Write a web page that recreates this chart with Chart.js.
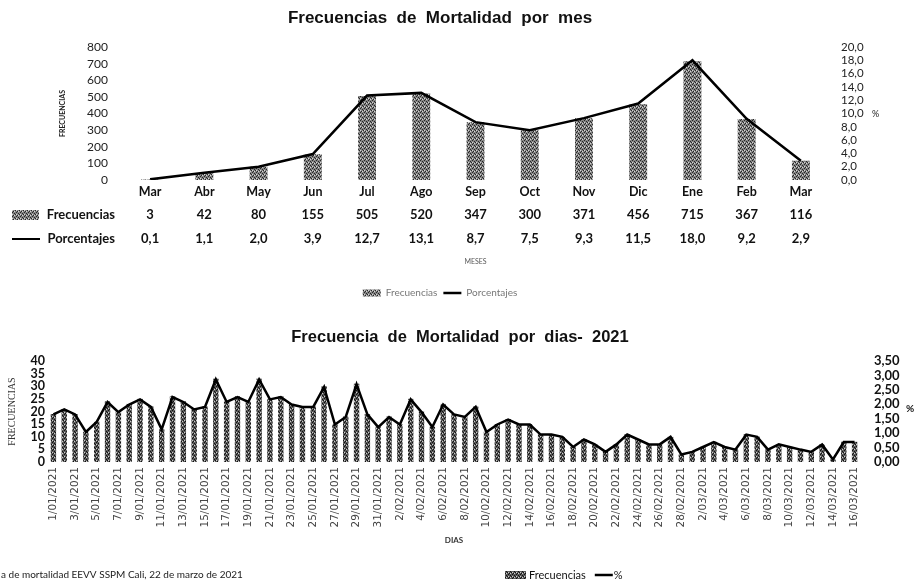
<!DOCTYPE html>
<html lang="es">
<head>
<meta charset="utf-8">
<title>Frecuencias de Mortalidad</title>
<script src="https://cdn.jsdelivr.net/npm/chart.js@4.4.0/dist/chart.umd.min.js"></script>
<style>
  html, body { margin: 0; padding: 0; background: #fff; }
  #mes { position: absolute; left: 0; top: 0; }
  #dias { position: absolute; left: 0; top: 310px; }
</style>
</head>
<body>
<canvas id="mes" width="916" height="310"></canvas>
<canvas id="dias" width="916" height="271"></canvas>
<script>
// datos por mes (mar 2020 - mar 2021)
var meses = ['Mar', 'Abr', 'May', 'Jun', 'Jul', 'Ago', 'Sep', 'Oct', 'Nov', 'Dic', 'Ene', 'Feb', 'Mar'];
var frecMes = [3, 42, 80, 155, 505, 520, 347, 300, 371, 456, 715, 367, 116];
var pctMes = [0.1, 1.1, 2.0, 3.9, 12.7, 13.1, 8.7, 7.5, 9.3, 11.5, 18.0, 9.2, 2.9];
var ticksFrecMes = ['0', '100', '200', '300', '400', '500', '600', '700', '800'];
var ticksPctMes = ['0,0', '2,0', '4,0', '6,0', '8,0', '10,0', '12,0', '14,0', '16,0', '18,0', '20,0'];

// datos por dia 2021
var dias = [
  '1/01/2021', '2/01/2021', '3/01/2021', '4/01/2021', '5/01/2021', '6/01/2021', '7/01/2021', '8/01/2021', '9/01/2021', '10/01/2021',
  '11/01/2021', '12/01/2021', '13/01/2021', '14/01/2021', '15/01/2021', '16/01/2021', '17/01/2021', '18/01/2021', '19/01/2021', '20/01/2021',
  '21/01/2021', '22/01/2021', '23/01/2021', '24/01/2021', '25/01/2021', '26/01/2021', '27/01/2021', '28/01/2021', '29/01/2021', '30/01/2021',
  '31/01/2021', '1/02/2021', '2/02/2021', '3/02/2021', '4/02/2021', '5/02/2021', '6/02/2021', '7/02/2021', '8/02/2021', '9/02/2021',
  '10/02/2021', '11/02/2021', '12/02/2021', '13/02/2021', '14/02/2021', '15/02/2021', '16/02/2021', '17/02/2021', '18/02/2021', '19/02/2021',
  '20/02/2021', '21/02/2021', '22/02/2021', '23/02/2021', '24/02/2021', '25/02/2021', '26/02/2021', '27/02/2021', '28/02/2021', '1/03/2021',
  '2/03/2021', '3/03/2021', '4/03/2021', '5/03/2021', '6/03/2021', '7/03/2021', '8/03/2021', '9/03/2021', '10/03/2021', '11/03/2021',
  '12/03/2021', '13/03/2021', '14/03/2021', '15/03/2021', '16/03/2021'
];
var frecDia = [
  19, 21, 19, 12, 16, 24, 20, 23, 25, 22,
  13, 26, 24, 21, 22, 33, 24, 26, 24, 33,
  25, 26, 23, 22, 22, 30, 15, 18, 31, 19,
  14, 18, 15, 25, 20, 14, 23, 19, 18, 22,
  12, 15, 17, 15, 15, 11, 11, 10, 6, 9,
  7, 4, 7, 11, 9, 7, 7, 10, 3, 4,
  6, 8, 6, 5, 11, 10, 5, 7, 6, 5,
  4, 7, 1, 8, 8
];
var pctDia = [
  1.65, 1.82, 1.65, 1.04, 1.39, 2.08, 1.73, 1.99, 2.17, 1.91,
  1.13, 2.25, 2.08, 1.82, 1.91, 2.86, 2.08, 2.25, 2.08, 2.86,
  2.17, 2.25, 1.99, 1.91, 1.91, 2.60, 1.30, 1.56, 2.69, 1.65,
  1.21, 1.56, 1.30, 2.17, 1.73, 1.21, 1.99, 1.65, 1.56, 1.91,
  1.04, 1.30, 1.47, 1.30, 1.30, 0.95, 0.95, 0.87, 0.52, 0.78,
  0.61, 0.35, 0.61, 0.95, 0.78, 0.61, 0.61, 0.87, 0.26, 0.35,
  0.52, 0.69, 0.52, 0.43, 0.95, 0.87, 0.43, 0.61, 0.52, 0.43,
  0.35, 0.61, 0.09, 0.69, 0.69
];
var ticksFrecDia = ['0', '5', '10', '15', '20', '25', '30', '35', '40'];
var ticksPctDia = ['0,00', '0,50', '1,00', '1,50', '2,00', '2,50', '3,00', '3,50'];

// trama punteada tipo fotocopia para las barras
function trama(base, oscuro, claro) {
  var c = document.createElement('canvas');
  c.width = 4; c.height = 4;
  var g = c.getContext('2d');
  g.fillStyle = base; g.fillRect(0, 0, 4, 4);
  g.fillStyle = oscuro;
  g.fillRect(0, 0, 1, 1); g.fillRect(2, 1, 1, 1); g.fillRect(1, 3, 1, 1); g.fillRect(3, 2, 1, 1);
  g.fillStyle = claro;
  g.fillRect(2, 3, 1, 1); g.fillRect(0, 2, 1, 1);
  return g.createPattern(c, 'repeat');
}
var patronMes = trama('#858585', '#262626', '#d6d6d6');
var patronDia = trama('#5c5c5c', '#111111', '#cfcfcf');

var sinRejilla = { display: false, drawTicks: false };
var sinBorde = { display: false };

// tabla de datos bajo el eje x
var tablaMes = {
  id: 'tablaMes',
  afterDraw: function (chart) {
    var ctx = chart.ctx, x = chart.scales.x, area = chart.chartArea;
    var f1 = area.bottom + 35, f2 = area.bottom + 59;
    ctx.save();
    ctx.font = 'bold 13px Lato';
    ctx.fillStyle = '#111';
    ctx.textBaseline = 'middle';
    ctx.textAlign = 'center';
    for (var i = 0; i < frecMes.length; i++) {
      var px = x.getPixelForValue(i);
      ctx.fillText(String(frecMes[i]), px, f1);
      ctx.fillText(pctMes[i].toFixed(1).replace('.', ','), px, f2);
    }
    ctx.textAlign = 'right';
    ctx.fillText('Frecuencias', 115, f1);
    ctx.fillText('Porcentajes', 115, f2);
    ctx.fillStyle = patronMes;
    ctx.fillRect(12, f1 - 5, 27, 10);
    ctx.strokeStyle = '#000';
    ctx.lineWidth = 2;
    ctx.beginPath(); ctx.moveTo(12, f2); ctx.lineTo(40, f2); ctx.stroke();
    // simbolo del eje derecho
    ctx.font = '9px Lato';
    ctx.fillStyle = '#222';
    ctx.textAlign = 'left';
    ctx.fillText('%', chart.scales.y1.left + 44, (area.top + area.bottom) / 2 + 1);
    ctx.restore();
  }
};

new Chart(document.getElementById('mes'), {
  type: 'bar',
  data: {
    labels: meses,
    datasets: [{
      label: 'Frecuencias',
      data: frecMes,
      yAxisID: 'y',
      backgroundColor: patronMes,
      borderColor: '#444',
      borderWidth: 0,
      barPercentage: 0.33,
      categoryPercentage: 1,
      pointStyle: 'rect',
      order: 1
    }, {
      type: 'line',
      label: 'Porcentajes',
      data: pctMes,
      yAxisID: 'y1',
      borderColor: '#000',
      backgroundColor: '#000',
      borderWidth: 2.5,
      pointRadius: 0,
      pointStyle: 'line',
      tension: 0,
      order: 0
    }]
  },
  options: {
    responsive: false,
    animation: false,
    layout: { padding: { left: 0, right: 36, top: 0, bottom: 2 } },
    plugins: {
      title: {
        display: true,
        text: 'Frecuencias  de  Mortalidad  por  mes',
        color: '#111',
        font: { family: 'Liberation Sans', size: 17, weight: 'bold' },
        padding: { top: 8, bottom: 18.6 }
      },
      legend: {
        position: 'bottom',
        labels: {
          usePointStyle: true,
          pointStyleWidth: 18,
          boxHeight: 7,
          color: '#777',
          font: { family: 'Lato', size: 10 },
          padding: 6,
          sort: function (a, b) { return a.datasetIndex - b.datasetIndex; }
        }
      },
      tooltip: { enabled: false }
    },
    scales: {
      x: {
        grid: sinRejilla,
        border: sinBorde,
        ticks: { color: '#111', font: { family: 'Lato', size: 12.5, weight: 'bold' }, padding: 4 },
        title: { display: true, text: 'MESES', color: '#555', font: { family: 'Lato', size: 7 }, padding: { top: 0, bottom: 16 } },
        afterFit: function (s) { s.height = 102; }
      },
      y: {
        position: 'left',
        min: 0, max: 800,
        grid: sinRejilla,
        border: sinBorde,
        ticks: {
          stepSize: 100,
          autoSkip: false,
          color: '#222',
          font: { family: 'Lato', size: 12 },
          padding: 15,
          callback: function (v, i) { return ticksFrecMes[i]; }
        },
        title: { display: true, text: 'FRECUENCIAS', color: '#222', font: { family: 'Lato', size: 7, weight: 'bold' }, padding: { top: 59, bottom: 0 } },
        afterFit: function (s) { s.width = 123; }
      },
      y1: {
        position: 'right',
        min: 0, max: 20,
        grid: sinRejilla,
        border: sinBorde,
        ticks: {
          stepSize: 2,
          autoSkip: false,
          color: '#222',
          font: { family: 'Lato', size: 11.5 },
          padding: 13,
          callback: function (v, i) { return ticksPctMes[i]; }
        },
        afterFit: function (s) { s.width = 52; }
      }
    }
  },
  plugins: [tablaMes]
});

// leyenda, fuente y simbolo % del grafico por dias
var notasDia = {
  id: 'notasDia',
  afterDraw: function (chart) {
    var ctx = chart.ctx, area = chart.chartArea;
    var yl = chart.height - 6;
    ctx.save();
    ctx.textBaseline = 'middle';
    ctx.textAlign = 'left';
    ctx.fillStyle = '#222';
    ctx.font = '10px Lato';
    ctx.fillText('a de mortalidad EEVV SSPM Cali, 22 de marzo de 2021', 1, yl);
    ctx.fillStyle = patronDia;
    ctx.fillRect(505, yl - 4, 21, 8);
    ctx.fillStyle = '#111';
    ctx.font = '11px Lato';
    ctx.fillText('Frecuencias', 529, yl);
    var fin = 529 + ctx.measureText('Frecuencias').width + 9;
    ctx.strokeStyle = '#000';
    ctx.lineWidth = 2.5;
    ctx.beginPath(); ctx.moveTo(fin, yl); ctx.lineTo(fin + 18, yl); ctx.stroke();
    ctx.fillText('%', fin + 19, yl);
    ctx.font = 'bold 10px Lato';
    ctx.textAlign = 'center';
    ctx.fillText('%', chart.scales.y1.left + 50, (area.top + area.bottom) / 2 - 3);
    ctx.restore();
  }
};

new Chart(document.getElementById('dias'), {
  type: 'bar',
  data: {
    labels: dias,
    datasets: [{
      label: 'Frecuencias',
      data: frecDia,
      yAxisID: 'y',
      backgroundColor: patronDia,
      borderWidth: 0,
      barPercentage: 0.5,
      categoryPercentage: 1,
      order: 1
    }, {
      type: 'line',
      label: '%',
      data: pctDia,
      yAxisID: 'y1',
      borderColor: '#000',
      backgroundColor: '#000',
      borderWidth: 2.5,
      pointRadius: 0,
      tension: 0,
      order: 0
    }]
  },
  options: {
    responsive: false,
    animation: false,
    layout: { padding: { left: 4, right: 0, top: 0, bottom: 31 } },
    plugins: {
      title: {
        display: true,
        text: 'Frecuencia  de  Mortalidad  por  dias-  2021',
        color: '#111',
        font: { family: 'Liberation Sans', size: 16.5, weight: 'bold' },
        padding: { top: 18, bottom: 13.2 }
      },
      legend: { display: false },
      tooltip: { enabled: false }
    },
    scales: {
      x: {
        grid: sinRejilla,
        border: sinBorde,
        ticks: {
          autoSkip: false,
          maxRotation: 90,
          minRotation: 90,
          color: '#444',
          font: { family: 'DejaVu Sans', size: 10.5 },
          padding: 5,
          callback: function (v, i) { return i % 2 === 0 ? dias[i] : ''; }
        },
        title: { display: true, text: 'DIAS', color: '#333', font: { family: 'Lato', size: 8, weight: 'bold' }, padding: { top: 0, bottom: 5 } },
        afterFit: function (s) { s.height = 88; }
      },
      y: {
        position: 'left',
        min: 0, max: 40,
        grid: sinRejilla,
        border: sinBorde,
        ticks: {
          stepSize: 5,
          autoSkip: false,
          color: '#111',
          font: { family: 'Lato', size: 12.5, weight: 'bold' },
          padding: 3,
          callback: function (v, i) { return ticksFrecDia[i]; }
        },
        title: { display: true, text: 'FRECUENCIAS', color: '#333', font: { family: 'Liberation Serif', size: 10 }, padding: { top: 2, bottom: 0 } },
        afterFit: function (s) { s.width = 44; }
      },
      y1: {
        position: 'right',
        min: 0, max: 3.5,
        grid: sinRejilla,
        border: sinBorde,
        ticks: {
          stepSize: 0.5,
          autoSkip: false,
          color: '#111',
          font: { family: 'Lato', size: 13, weight: 'bold' },
          padding: 14,
          callback: function (v, i) { return ticksPctDia[i]; }
        },
        afterFit: function (s) { s.width = 56; }
      }
    }
  },
  plugins: [notasDia]
});
</script>
</body>
</html>
